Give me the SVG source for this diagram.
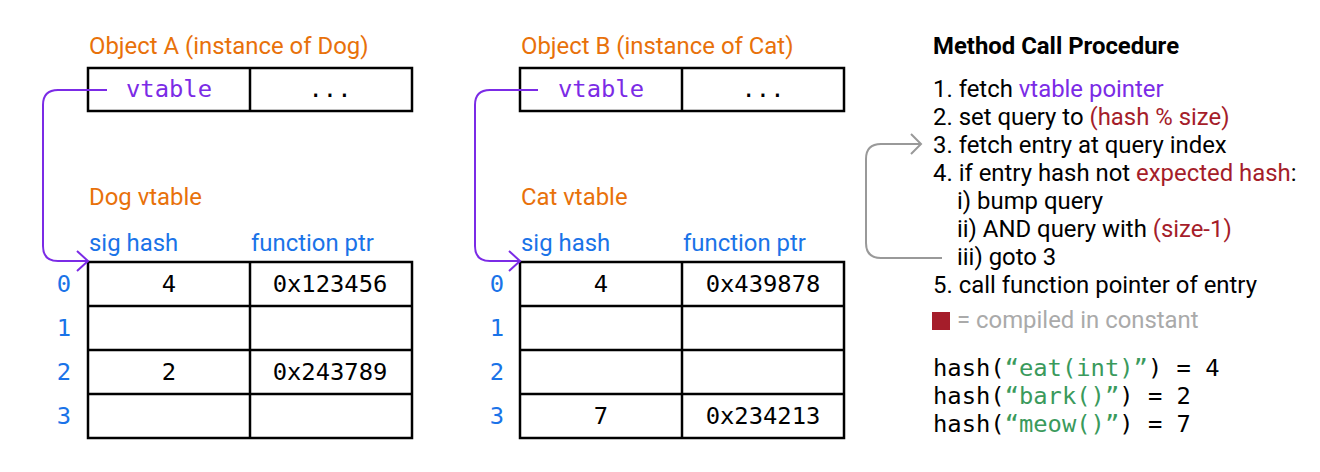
<svg xmlns="http://www.w3.org/2000/svg" width="1320" height="472" viewBox="0 0 1320 472">
<style>
.t{font-family:Roboto,"Liberation Sans",sans-serif;font-size:23.9px}
.orange{fill:#e8710a}
.blue{fill:#1a73e8}
.mono{font-family:"DejaVu Sans Mono","Liberation Mono",monospace;font-size:23.8px}
.cell{fill:#fff;stroke:#000;stroke-width:2.5}
.purple{fill:#7b2be6}
.red{fill:#a51d2a}
.green{fill:#3a9a5c}
.gray{fill:#aaaaaa}
.ptr{fill:none;stroke:#7b2be6;stroke-width:2}
.loop{fill:none;stroke:#999;stroke-width:2}
</style>
<g id="objA">
<text class="t orange" x="89" y="54">Object A (instance of Dog)</text>
<rect class="cell" x="88" y="68" width="324" height="43"/>
<line class="cell" x1="250" y1="68" x2="250" y2="111"/>
<text class="mono purple" x="169" y="97" text-anchor="middle">vtable</text>
<text class="mono" x="330" y="97" text-anchor="middle">...</text>
</g>
<g id="dogVtable">
<text class="t orange" x="89" y="205">Dog vtable</text>
<text class="t blue" x="89" y="251">sig hash</text>
<text class="t blue" x="251" y="251">function ptr</text>
<rect class="cell" x="88" y="262" width="324" height="176"/>
<line class="cell" x1="250" y1="262" x2="250" y2="438"/>
<line class="cell" x1="88" y1="306" x2="412" y2="306"/>
<line class="cell" x1="88" y1="350" x2="412" y2="350"/>
<line class="cell" x1="88" y1="394" x2="412" y2="394"/>
<g class="mono blue" text-anchor="middle">
<text x="64" y="292">0</text><text x="64" y="336">1</text><text x="64" y="380">2</text><text x="64" y="424">3</text>
</g>
<g class="mono" text-anchor="middle">
<text x="169" y="292">4</text><text x="330" y="292">0x123456</text>
<text x="169" y="380">2</text><text x="330" y="380">0x243789</text>
</g>
</g>
<g id="objB">
<text class="t orange" x="521" y="54">Object B (instance of Cat)</text>
<rect class="cell" x="520" y="68" width="324" height="43"/>
<line class="cell" x1="682" y1="68" x2="682" y2="111"/>
<text class="mono purple" x="601" y="97" text-anchor="middle">vtable</text>
<text class="mono" x="763" y="97" text-anchor="middle">...</text>
</g>
<g id="catVtable">
<text class="t orange" x="521" y="205">Cat vtable</text>
<text class="t blue" x="521" y="251">sig hash</text>
<text class="t blue" x="683" y="251">function ptr</text>
<rect class="cell" x="520" y="262" width="324" height="176"/>
<line class="cell" x1="682" y1="262" x2="682" y2="438"/>
<line class="cell" x1="520" y1="306" x2="844" y2="306"/>
<line class="cell" x1="520" y1="350" x2="844" y2="350"/>
<line class="cell" x1="520" y1="394" x2="844" y2="394"/>
<g class="mono blue" text-anchor="middle">
<text x="497" y="292">0</text><text x="497" y="336">1</text><text x="497" y="380">2</text><text x="497" y="424">3</text>
</g>
<g class="mono" text-anchor="middle">
<text x="601" y="292">4</text><text x="763" y="292">0x439878</text>
<text x="601" y="424">7</text><text x="763" y="424">0x234213</text>
</g>
</g>
<g id="procedure">
<text class="t" x="933" y="54" font-weight="bold">Method Call Procedure</text>
<text class="t" x="933" y="97">1. fetch <tspan class="purple">vtable pointer</tspan></text>
<text class="t" x="933" y="125">2. set query to <tspan class="red">(hash % size)</tspan></text>
<text class="t" x="933" y="153">3. fetch entry at query index</text>
<text class="t" x="933" y="181">4. if entry hash not <tspan class="red">expected hash</tspan>:</text>
<text class="t" x="957" y="209">i) bump query</text>
<text class="t" x="957" y="237">ii) AND query with <tspan class="red">(size-1)</tspan></text>
<text class="t" x="957" y="265">iii) goto 3</text>
<text class="t" x="933" y="293">5. call function pointer of entry</text>
<rect x="932" y="312" width="18" height="18" fill="#a51d2a"/>
<text class="t gray" x="957" y="328">= compiled in constant</text>
</g>
<g id="hashes" class="mono">
<text x="933" y="376">hash(<tspan class="green">“eat(int)”</tspan>) = 4</text>
<text x="933" y="404">hash(<tspan class="green">“bark()”</tspan>) = 2</text>
<text x="933" y="432">hash(<tspan class="green">“meow()”</tspan>) = 7</text>
</g>
<g id="connectors">
<path class="ptr" d="M107 90 H58 Q43 90 43 105 V246 Q43 261 58 261 H88"/>
<path class="ptr" d="M77 251 L88 261 L77 271"/>
<path class="ptr" d="M538 90 H490 Q475 90 475 105 V246 Q475 261 490 261 H520"/>
<path class="ptr" d="M509 251 L520 261 L509 271"/>
<path class="loop" d="M942 258 H881 Q866 258 866 243 V159 Q866 144 881 144 H921"/>
<path class="loop" d="M911 134 L921 144 L911 154"/>
</g>
</svg>
